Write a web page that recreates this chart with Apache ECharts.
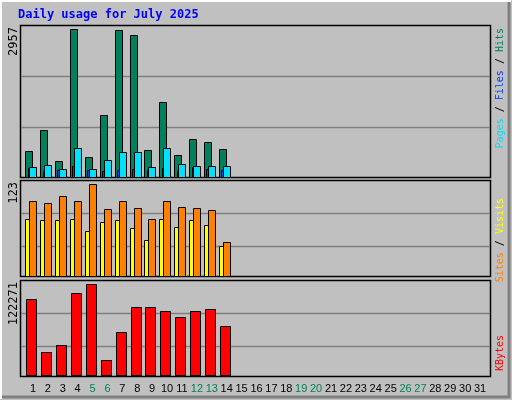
<!DOCTYPE html>
<html><head><meta charset="utf-8">
<script src="https://cdn.jsdelivr.net/npm/echarts@6/dist/echarts.min.js"></script>
<style>html,body{margin:0;padding:0;background:#c0c0c0}#c{width:512px;height:400px}</style>
</head><body><div id="c"></div>
<script>
const days = Array.from({length:31},(_,i)=>String(i+1));
const weekend = ['5','6','12','13','19','20','26','27'];
const hits   = [510,931,329,2957,409,1232,2937,2837,530,1493,449,750,690,550];
const files  = [194,247,154,588,154,348,508,508,194,588,268,214,227,214];
const pages  = [180,114,134,214,134,114,134,154,134,174,114,194,154,134];
const visits = [100,97.5,107,100,123,89,100,91,76,100,92,91,88,45];
const sites  = [76,75,75,76,60,72,75,64,48,76,65,75,68,40];
const kbytes = [102115,30903,40308,110175,122271,20154,57775,91365,91365,85990,77929,85990,88677,65836];
const maxLabels = ['2957','123','122271'];

const chart = echarts.init(document.getElementById('c'));
const mono = 'DejaVu Sans Mono';
function bars(name, data, gi, off, w, color){
  return {type:'custom', name, xAxisIndex:gi, yAxisIndex:gi,
    data: data.map((v,i)=>[i,v]),
    renderItem:(p,api)=>{
      const t=api.coord([api.value(0),api.value(1)]);
      const b=api.coord([api.value(0),0]);
      return {type:'rect', shape:{x:Math.round(t[0]+off)+0.5,y:Math.round(t[1])+0.5,width:w,height:Math.round(b[1])-Math.round(t[1])},
        style:{fill:color,stroke:'#000',lineWidth:1}};
    }};
}
const grids=[{top:29,h:148},{top:184,h:92},{top:284,h:91}];
const maxes=[2957,123,122271];
const gl=[[76.5,127.5],[213.5,246.5],[313.5,346.5]];
const panels=[[25,177],[180,276],[280,376]];
const graphic=[];
panels.forEach((p,i)=>{
  graphic.push({type:'rect',z:-1,shape:{x:20.5,y:p[0]+0.5,width:470,height:p[1]-p[0]},style:{fill:'#c0c0c0',stroke:'#000',lineWidth:1.5}});
  gl[i].forEach(y=>graphic.push({type:'line',z:0,shape:{x1:21,y1:y,x2:490,y2:y},style:{stroke:'#808080',lineWidth:1.5}}));
  graphic.push({type:'text',x:8,y:p[0]+2,rotation:Math.PI/2,style:{text:maxLabels[i],font:'12px '+mono,fill:'#000',align:'right',verticalAlign:'top'}});
});
graphic.push({type:'rect',z:-2,shape:{x:0,y:0,width:512,height:400},style:{fill:'#c0c0c0'}});
graphic.push({type:'polyline',shape:{points:[[1,399],[1,1],[511,1]]},style:{stroke:'#fff',lineWidth:2}});
graphic.push({type:'polyline',shape:{points:[[2,397],[509,397],[509,2]]},style:{stroke:'#808080',lineWidth:3}});
graphic.push({type:'text',x:18,y:9,style:{text:'Daily usage for July 2025',font:'bold 12px '+mono,fill:'#0000ff'}});
function rtitle(y, parts){
  const f='10px '+mono;
  graphic.push({type:'text',x:495,y:y,rotation:Math.PI/2,style:{text:parts.map(p=>'{'+p[1]+'|'+p[0]+'}').join(''),
    align:'right',verticalAlign:'top',rich:{a:{fill:'#00e0ff',font:f},b:{fill:'#0040ff',font:f},c:{fill:'#00805c',font:f},
    d:{fill:'#ff8000',font:f},e:{fill:'#ffff00',font:f},f:{fill:'#ff0000',font:f},k:{fill:'#000',font:f}}}});
}
rtitle(28,[['Pages','a'],[' / ','k'],['Files','b'],[' / ','k'],['Hits','c']]);
rtitle(198,[['Sites','d'],[' / ','k'],['Visits','e']]);
rtitle(335,[['KBytes','f']]);

chart.setOption({
  animation:false,
  grid:grids.map(g=>({left:25.5,width:462,top:g.top,height:g.h})),
  xAxis:grids.map((g,i)=>({type:'category',gridIndex:i,data:days,boundaryGap:true,
    axisLine:{show:false},axisTick:{show:false},
    axisLabel:{show:i===2,interval:0,margin:8,fontFamily:'Liberation Sans',fontSize:11,
      color:(v)=>weekend.includes(v)?'#00805c':'#000'}})),
  yAxis:grids.map((g,i)=>({type:'value',gridIndex:i,min:0,max:maxes[i],show:false,splitLine:{show:false}})),
  graphic:{elements:graphic},
  series:[
    bars('Hits',hits,0,-7.7,7,'#00805c'),
    bars('Pages',pages,0,-5.3,2,'#0040ff'),
    bars('Files',files,0,-3.7,7,'#00e0ff'),
    bars('Sites',sites,1,-7.7,4,'#ffff00'),
    bars('Visits',visits,1,-3.7,7,'#ff8000'),
    bars('KBytes',kbytes,2,-6.7,10,'#ff0000')
  ]
});
</script></body></html>
